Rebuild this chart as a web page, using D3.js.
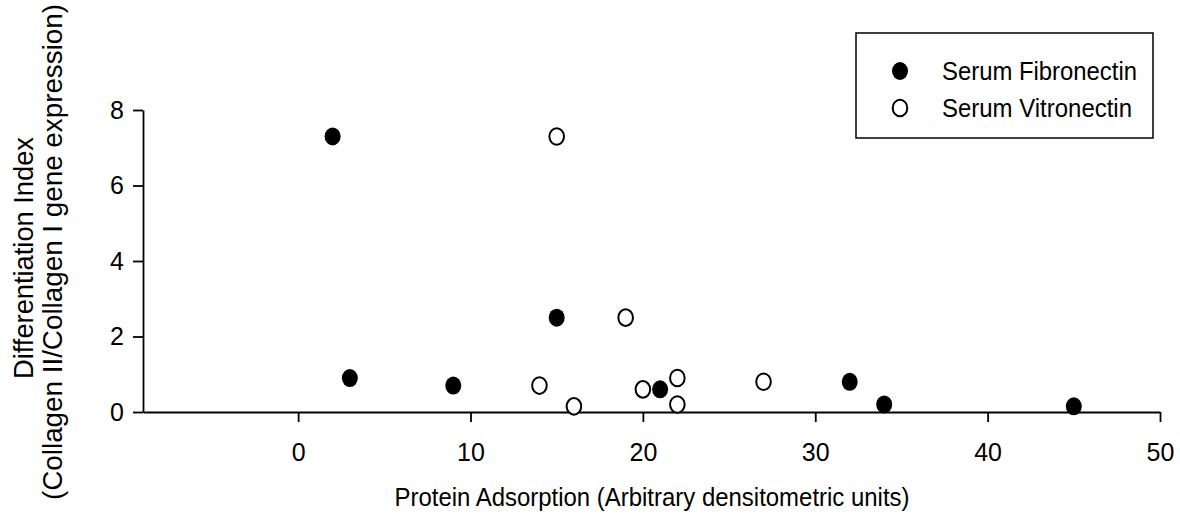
<!DOCTYPE html>
<html>
<head>
<meta charset="utf-8">
<script src="https://cdn.jsdelivr.net/npm/d3@7"></script>
<style>
  body { margin: 0; background: #fff; }
  svg text { font-family: "Liberation Sans", Arial, sans-serif; fill: #000; }
  .axis path, .axis line { stroke: #000; stroke-width: 1.8; }
  .axis text { font-size: 25px; }
</style>
</head>
<body>
<div id="chart"></div>
<script>
// data
var fibroX = [2, 3, 9, 15, 21, 32, 34, 45];
var fibroY = [7.3, 0.9, 0.7, 2.5, 0.6, 0.8, 0.2, 0.15];
var vitroX = [14, 15, 16, 19, 20, 22, 22, 27];
var vitroY = [0.7, 7.3, 0.15, 2.5, 0.6, 0.9, 0.2, 0.8];
var xTicks = [0, 10, 20, 30, 40, 50];
var yTicks = [0, 2, 4, 6, 8];
var seriesNames = ["Serum Fibronectin", "Serum Vitronectin"];

var svgWidth = 1180;
var svgHeight = 527;

var svg = d3.select("#chart")
  .append("svg")
  .attr("width", svgWidth)
  .attr("height", svgHeight);

var xScale = d3.scaleLinear().domain([-9, 50]).range([143, 1160]);
var yScale = d3.scaleLinear().domain([0, 8]).range([412, 110]);

// x axis (tickSize first, it also sets the outer size)
var xAxis = svg.append("g")
  .attr("class", "axis")
  .attr("transform", `translate(0, ${yScale(0)})`)
  .call(d3.axisBottom(xScale).tickValues(xTicks).tickSize(10).tickSizeOuter(0).tickPadding(21));
xAxis.selectAll("text").attr("dy", "0.71em");

// y axis
var yAxis = svg.append("g")
  .attr("class", "axis")
  .attr("transform", `translate(${xScale(-9)}, 0)`)
  .call(d3.axisLeft(yScale).tickValues(yTicks).tickSize(10).tickSizeOuter(0).tickPadding(9));

// points
var fibro = fibroX.map((d, i) => ({x: d, y: fibroY[i]}));
var vitro = vitroX.map((d, i) => ({x: d, y: vitroY[i]}));

svg.append("g").selectAll("ellipse")
  .data(vitro)
  .join("ellipse")
  .attr("cx", d => xScale(d.x))
  .attr("cy", d => yScale(d.y))
  .attr("rx", 7.3)
  .attr("ry", 8.3)
  .attr("fill", "#fff")
  .attr("stroke", "#000")
  .attr("stroke-width", 2);

svg.append("g").selectAll("ellipse")
  .data(fibro)
  .join("ellipse")
  .attr("cx", d => xScale(d.x))
  .attr("cy", d => yScale(d.y))
  .attr("rx", 8)
  .attr("ry", 9)
  .attr("fill", "#000");

// axis titles
svg.append("text")
  .attr("x", 652)
  .attr("y", 506)
  .attr("text-anchor", "middle")
  .attr("textLength", 515)
  .attr("lengthAdjust", "spacingAndGlyphs")
  .style("font-size", "26px")
  .text("Protein Adsorption (Arbitrary densitometric units)");

var yTitle = svg.append("g")
  .attr("transform", "translate(0, 255) rotate(-90)");
yTitle.append("text")
  .attr("x", -3)
  .attr("y", 33)
  .attr("text-anchor", "middle")
  .attr("textLength", 242)
  .attr("lengthAdjust", "spacingAndGlyphs")
  .style("font-size", "28px")
  .text("Differentiation Index");
yTitle.append("text")
  .attr("x", 3)
  .attr("y", 62)
  .attr("text-anchor", "middle")
  .attr("textLength", 496)
  .attr("lengthAdjust", "spacingAndGlyphs")
  .style("font-size", "28px")
  .text("(Collagen II/Collagen I gene expression)");

// legend
var legend = svg.append("g");
legend.append("rect")
  .attr("x", 856)
  .attr("y", 33)
  .attr("width", 297)
  .attr("height", 105)
  .attr("fill", "none")
  .attr("stroke", "#000")
  .attr("stroke-width", 1.5);

legend.append("ellipse")
  .attr("cx", 900).attr("cy", 71)
  .attr("rx", 8).attr("ry", 9)
  .attr("fill", "#000");
legend.append("ellipse")
  .attr("cx", 900).attr("cy", 108)
  .attr("rx", 7.3).attr("ry", 8.3)
  .attr("fill", "#fff").attr("stroke", "#000").attr("stroke-width", 2);

legend.selectAll("text.leg")
  .data(seriesNames)
  .join("text")
  .attr("class", "leg")
  .attr("x", 942)
  .attr("y", (d, i) => 71 + i * 37)
  .attr("dy", "0.35em")
  .attr("textLength", (d, i) => i === 0 ? 195 : 190)
  .attr("lengthAdjust", "spacingAndGlyphs")
  .style("font-size", "25px")
  .text(d => d);
</script>
</body>
</html>
